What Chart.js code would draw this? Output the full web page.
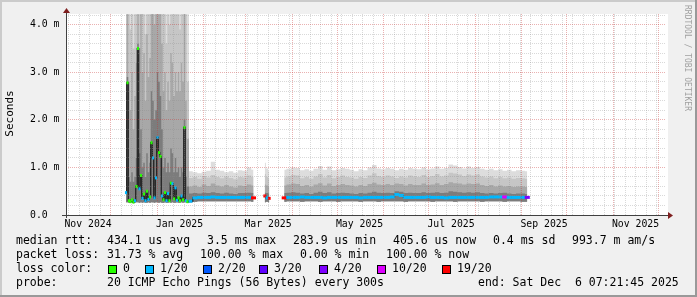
<!DOCTYPE html>
<html>
<head>
<meta charset="utf-8">
<script src="https://cdn.jsdelivr.net/npm/chart.js@4.4.1/dist/chart.umd.min.js"></script>
<style>
  html, body { margin: 0; padding: 0; background: #f0f0f0; }
  canvas { display: block; }
</style>
</head>
<body>
<canvas id="smoke" width="697" height="297"></canvas>
<script>
// x values are days since graph start (Fri Nov  1 07:21:45 2024), 400 days shown
const startMs = Date.UTC(2024, 10, 1, 7, 21, 45);
const spanDays = 400;
const yMax = 4.225; // ms

const sampleDay = [
  40, 41, 42, 43, 44, 45, 46, 47, 48, 49,
  50, 51, 52, 53, 54, 55, 56, 57, 58, 59,
  60, 61, 62, 63, 64, 65, 66, 67, 68, 69,
  70, 71, 72, 73, 74, 75, 76, 77, 78, 79,
  80, 81,
  83, 86, 89, 92, 95, 98, 101, 104, 107, 110, 113, 116, 119, 122, 125,
  128,
  132.5, 134, 135.5,
  140,
  145.5, 148.5, 151.5, 154.5, 157.5, 160.5, 163.5, 166.5, 169.5, 172.5,
  175.5, 178.5, 181.5, 184.5, 187.5, 190.5, 193.5, 196.5, 199.5, 202.5,
  205.5, 208.5, 211.5, 214.5, 217.5, 220.5, 223.5, 226.5, 229.5, 232.5,
  235.5, 238.5, 241.5, 244.5, 247.5, 250.5, 253.5, 256.5, 259.5, 262.5,
  265.5, 268.5, 271.5, 274.5, 277.5, 280.5, 283.5, 286.5, 289.5, 292.5,
  295.5, 298.5, 301.5, 304.5, 307.5
];

// median rtt in ms
const median = [
  0.47, 2.78, 0.30, 0.28, 0.32, 0.27, 0.30, 0.60, 3.50, 0.55,
  0.83, 0.35, 0.44, 0.30, 0.50, 0.33, 0.38, 1.52, 1.20, 0.36,
  0.78, 1.63, 1.31, 1.23, 0.40, 0.32, 0.47, 0.30, 0.45, 0.30,
  0.67, 0.66, 0.34, 0.57, 0.31, 0.36, 0.30, 0.40, 0.32, 1.84,
  0.30, 0.28,
  0.29, 0.36, 0.37, 0.37, 0.37, 0.38, 0.37, 0.37, 0.37, 0.37, 0.37, 0.37, 0.37, 0.37, 0.36,
  null,
  0.40, 0.36, 0.35,
  null,
  0.36, 0.37, 0.37, 0.37, 0.38, 0.37, 0.37, 0.37, 0.37, 0.36,
  0.37, 0.37, 0.37, 0.37, 0.37, 0.37, 0.37, 0.36, 0.37, 0.37,
  0.37, 0.37, 0.37, 0.37, 0.38, 0.43, 0.41, 0.37, 0.37, 0.37,
  0.37, 0.37, 0.38, 0.37, 0.37, 0.37, 0.36, 0.37, 0.37, 0.37,
  0.37, 0.37, 0.37, 0.37, 0.37, 0.37, 0.38, 0.38, 0.38, 0.38,
  0.37, 0.37, 0.37, 0.37, 0.37
];

// lost pings out of 20
const lossCount = [
  1, 0, 0, 0, 0, 0, 1, 0, 0, 1,
  0, 1, 0, 1, 0, 1, 0, 0, 1, 1,
  1, 1, 0, 0, 1, 0, 0, 1, 1, 0,
  0, 1, 0, 1, 1, 0, 0, 1, 0, 0,
  1, 0,
  1, 1, 1, 1, 1, 1, 1, 1, 1, 1, 1, 1, 1, 1, 19,
  null,
  19, 1, 19,
  null,
  19, 1, 1, 1, 1, 1, 1, 1, 1, 1,
  1, 1, 1, 1, 1, 1, 1, 1, 1, 1,
  1, 1, 1, 1, 1, 1, 1, 1, 1, 1,
  1, 1, 1, 1, 1, 1, 1, 1, 1, 1,
  1, 1, 1, 1, 1, 1, 1, 1, 1, 10,
  1, 1, 1, 1, 4
];

// smoke levels (ms), lowest ping up to highest ping
const smokeMin = [
  0.27, 0.27, 0.26, 0.26, 0.27, 0.25, 0.26, 0.27, 0.27, 0.26,
  0.27, 0.26, 0.27, 0.26, 0.26, 0.27, 0.26, 0.27, 0.27, 0.26,
  0.27, 0.27, 0.26, 0.27, 0.26, 0.25, 0.27, 0.26, 0.26, 0.27,
  0.26, 0.27, 0.26, 0.26, 0.27, 0.26, 0.26, 0.27, 0.26, 0.27,
  0.27, 0.26,
  0.27, 0.28, 0.29, 0.29, 0.29, 0.29, 0.29, 0.29, 0.29, 0.29, 0.29, 0.29, 0.29, 0.29, 0.28,
  null,
  0.27, 0.28, 0.27,
  null,
  0.28, 0.29, 0.29, 0.29, 0.28, 0.29, 0.29, 0.29, 0.28, 0.29,
  0.29, 0.29, 0.28, 0.29, 0.29, 0.29, 0.29, 0.28, 0.29, 0.29,
  0.29, 0.28, 0.29, 0.29, 0.29, 0.29, 0.29, 0.28, 0.29, 0.29,
  0.29, 0.29, 0.29, 0.28, 0.29, 0.29, 0.29, 0.29, 0.28, 0.29,
  0.29, 0.29, 0.29, 0.29, 0.28, 0.29, 0.29, 0.29, 0.29, 0.28,
  0.29, 0.29, 0.29, 0.28, 0.28
];

const smokeU1 = [
  0.9, 2.9, 0.8, 0.7, 0.9, 0.7, 0.8, 1.2, 3.6, 1.3,
  1.8, 1.0, 1.1, 0.8, 1.3, 0.9, 1.1, 2.6, 2.4, 2.0,
  2.2, 3.0, 2.8, 2.5, 1.8, 1.0, 1.2, 0.9, 1.1, 0.9,
  1.4, 1.3, 0.9, 1.2, 0.9, 1.0, 0.8, 1.0, 0.9, 2.0,
  0.8, 0.6,
  0.45, 0.46, 0.45, 0.47, 0.46, 0.48, 0.46, 0.45, 0.47, 0.45, 0.44, 0.46, 0.46, 0.47, 0.46,
  null,
  0.47, 0.46, 0.45,
  null,
  0.46, 0.47, 0.48, 0.47, 0.45, 0.46, 0.44, 0.47, 0.49, 0.46,
  0.48, 0.45, 0.46, 0.47, 0.46, 0.45, 0.44, 0.46, 0.45, 0.47,
  0.49, 0.47, 0.46, 0.47, 0.46, 0.50, 0.49, 0.46, 0.47, 0.46,
  0.46, 0.48, 0.46, 0.47, 0.48, 0.46, 0.47, 0.50, 0.49, 0.48,
  0.47, 0.48, 0.47, 0.48, 0.46, 0.45, 0.46, 0.45, 0.46, 0.47,
  0.45, 0.44, 0.45, 0.45, 0.44
];

const smokeU2 = [
  2.5, 4.22, 2.8, 2.2, 3.0, 1.8, 2.5, 3.2, 4.22, 3.5,
  4.22, 3.0, 3.4, 2.4, 3.8, 2.9, 3.3, 4.22, 4.22, 4.0,
  4.22, 4.22, 4.22, 4.22, 3.6, 2.6, 3.0, 2.2, 2.8, 2.4,
  3.4, 3.2, 2.5, 3.0, 2.6, 3.0, 2.6, 3.2, 2.8, 4.22,
  2.4, 1.6,
  0.60, 0.62, 0.59, 0.64, 0.61, 0.66, 0.62, 0.60, 0.63, 0.60, 0.58, 0.62, 0.61, 0.64, 0.62,
  null,
  0.64, 0.62, 0.60,
  null,
  0.62, 0.64, 0.66, 0.65, 0.61, 0.63, 0.60, 0.64, 0.67, 0.62,
  0.66, 0.61, 0.63, 0.65, 0.63, 0.62, 0.60, 0.63, 0.61, 0.65,
  0.68, 0.64, 0.63, 0.65, 0.63, 0.66, 0.65, 0.62, 0.65, 0.63,
  0.63, 0.66, 0.63, 0.64, 0.67, 0.63, 0.65, 0.69, 0.67, 0.66,
  0.64, 0.66, 0.65, 0.66, 0.63, 0.61, 0.63, 0.60, 0.62, 0.60,
  0.61, 0.59, 0.60, 0.60, 0.59
];

const smokeU3 = [
  4.22, 4.22, 4.22, 3.9, 4.22, 3.5, 4.22, 4.22, 4.22, 4.22,
  4.22, 4.22, 4.22, 3.8, 4.22, 4.22, 4.22, 4.22, 4.22, 4.22,
  4.22, 4.22, 4.22, 4.22, 4.22, 4.22, 4.22, 3.6, 4.22, 4.0,
  4.22, 4.22, 4.22, 4.22, 4.22, 4.22, 3.9, 4.22, 4.22, 4.22,
  4.22, 2.8,
  0.78, 0.80, 0.76, 0.82, 0.79, 0.84, 0.80, 0.77, 0.81, 0.78, 0.75, 0.80, 0.79, 0.83, 0.80,
  null,
  0.86, 0.80, 0.76,
  null,
  0.79, 0.81, 0.84, 0.83, 0.77, 0.80, 0.76, 0.81, 0.86, 0.79,
  0.84, 0.77, 0.80, 0.83, 0.80, 0.79, 0.76, 0.80, 0.78, 0.83,
  0.88, 0.82, 0.80, 0.83, 0.81, 0.78, 0.81, 0.79, 0.83, 0.81,
  0.80, 0.84, 0.80, 0.82, 0.86, 0.81, 0.83, 0.89, 0.87, 0.85,
  0.82, 0.85, 0.83, 0.85, 0.81, 0.79, 0.81, 0.77, 0.80, 0.77,
  0.79, 0.76, 0.78, 0.77, 0.76
];

const smokeMax = [
  4.22, 4.22, 4.22, 4.22, 4.22, 4.22, 4.22, 4.22, 4.22, 4.22,
  4.22, 4.22, 4.22, 4.22, 4.22, 4.22, 4.22, 4.22, 4.22, 4.22,
  4.22, 4.22, 4.22, 4.22, 4.22, 4.22, 4.22, 4.22, 4.22, 4.22,
  4.22, 4.22, 4.22, 4.22, 4.22, 4.22, 4.22, 4.22, 4.22, 4.22,
  4.22, 4.22,
  0.92, 0.90, 0.88, 0.91, 0.93, 1.12, 0.95, 0.93, 0.90, 0.92, 0.89, 0.94, 0.93, 1.00, 0.95,
  null,
  1.10, 0.98, 0.92,
  null,
  0.95, 0.97, 1.00, 0.99, 0.94, 0.96, 0.93, 0.97, 1.03, 0.95,
  1.02, 0.94, 0.96, 0.99, 0.97, 0.95, 0.92, 0.96, 0.94, 1.00,
  1.05, 0.98, 0.96, 0.99, 0.97, 0.94, 0.97, 0.95, 0.99, 0.97,
  0.96, 1.00, 0.96, 0.98, 1.02, 0.97, 0.99, 1.06, 1.04, 1.01,
  0.98, 1.02, 0.99, 1.01, 0.97, 0.95, 0.97, 0.94, 0.96, 0.93,
  0.95, 0.92, 0.94, 0.93, 0.92
];

const lossLevels = [0, 1, 2, 3, 4, 10, 19];
const lossLabels = ['0', '1/20', '2/20', '3/20', '4/20', '10/20', '19/20'];
const lossColors = ['#26ff00', '#00b8ff', '#0059ff', '#5e00ff', '#7e00ff', '#dd00ff', '#ff0000'];

const yTicks = [0, 1, 2, 3, 4];
const yTickLabels = ['0.0', '1.0 m', '2.0 m', '3.0 m', '4.0 m'];
const xLabelMonths = [[2024, 10], [2025, 0], [2025, 2], [2025, 4], [2025, 6], [2025, 8], [2025, 10]];
const xLabels = ['Nov 2024', 'Jan 2025', 'Mar 2025', 'May 2025', 'Jul 2025', 'Sep 2025', 'Nov 2025'];

const legendRtt = ['median rtt:', '434.1 us avg', '3.5 ms max', '283.9 us min', '405.6 us now', '0.4 ms sd', '993.7 m am/s'];
const legendRttX = [16, 107, 207, 293, 393, 493, 572];
const legendLoss = ['packet loss:', '31.73 % avg', '100.00 % max', '0.00 % min', '100.00 % now'];
const legendLossX = [16, 107, 200, 300, 386];
const lossBoxX = [108, 145, 203, 259, 319, 377, 442];
const probeText = ['probe:', '20 ICMP Echo Pings (56 Bytes) every 300s', 'end: Sat Dec  6 07:21:45 2025'];
const probeX = [16, 107, 478];

function lossColor(n) {
  let c = lossColors[0];
  for (let i = 0; i < lossLevels.length; i++) if (n >= lossLevels[i]) c = lossColors[i];
  return c;
}

function pts(values) {
  return sampleDay.map((d, i) => ({ x: d, y: values[i] }));
}

function smoke(values, color, order) {
  return {
    data: pts(values), fill: 0, backgroundColor: color, borderWidth: 0,
    pointRadius: 0, stepped: 'middle', order: order
  };
}

// half the width of one sample step, in pixels (plot is 600 px for 400 days)
function stepRadius(c) {
  const i = c.dataIndex;
  if (i == null) return 1;
  const gaps = [];
  if (i > 0 && median[i - 1] != null) gaps.push(sampleDay[i] - sampleDay[i - 1]);
  if (i < sampleDay.length - 1 && median[i + 1] != null) gaps.push(sampleDay[i + 1] - sampleDay[i]);
  const g = gaps.length ? Math.min(...gaps) : 2;
  return g * 600 / spanDays / 2 + 0.3;
}

const MONO = '"DejaVu Sans Mono", monospace';
const dayOf = (y, m, d) => (Date.UTC(y, m, d) - startMs) / 86400000;

const rrdFrame = {
  id: 'rrdFrame',
  beforeDraw(chart) {
    const { ctx, chartArea: a, width, height } = chart;
    ctx.save();
    ctx.fillStyle = '#f0f0f0';
    ctx.fillRect(0, 0, width, height);
    ctx.fillStyle = '#cbcbcb';
    ctx.fillRect(0, 0, width, 2);
    ctx.fillRect(0, 0, 2, height);
    ctx.fillStyle = '#999999';
    ctx.fillRect(0, height - 2, width, 2);
    ctx.fillRect(width - 2, 0, 2, height);
    ctx.fillStyle = '#ffffff';
    ctx.fillRect(a.left, a.top, a.right - a.left + 2, a.bottom - a.top);
    ctx.restore();
  },
  afterDatasetsDraw(chart) {
    const { ctx, chartArea: a } = chart;
    const xs = chart.scales.x, ys = chart.scales.y;
    const months = [];
    for (let k = 0; k <= 12; k++) months.push(dayOf(2024, 11 + k, 1));

    ctx.save();
    ctx.lineWidth = 1;
    ctx.setLineDash([1, 1]);

    // minor grid: weeks and 0.2 ms
    ctx.strokeStyle = 'rgba(140,140,140,0.33)';
    ctx.beginPath();
    for (let d = dayOf(2024, 10, 3); d < spanDays; d += 7) {
      if (months.some(m => Math.abs(m - d) < 0.5)) continue;
      const x = Math.floor(xs.getPixelForValue(d)) + 0.5;
      ctx.moveTo(x, a.top); ctx.lineTo(x, a.bottom);
    }
    for (let i = 1; i * 0.2 < yMax; i++) {
      if (i % 5 === 0) continue;
      const y = Math.floor(ys.getPixelForValue(i * 0.2)) + 0.5;
      ctx.moveTo(a.left, y); ctx.lineTo(a.right, y);
    }
    ctx.stroke();

    // major grid: months and 1 ms
    ctx.strokeStyle = 'rgba(200,50,50,0.38)';
    ctx.beginPath();
    months.forEach(d => {
      const x = Math.floor(xs.getPixelForValue(d)) + 0.5;
      ctx.moveTo(x, a.top); ctx.lineTo(x, a.bottom);
    });
    yTicks.slice(1).forEach(v => {
      const y = Math.floor(ys.getPixelForValue(v)) + 0.5;
      ctx.moveTo(a.left, y); ctx.lineTo(a.right, y);
    });
    ctx.stroke();

    // axes with arrows
    ctx.setLineDash([]);
    ctx.strokeStyle = '#404040';
    ctx.beginPath();
    ctx.moveTo(a.left - 4, a.bottom + 0.5); ctx.lineTo(a.right + 3, a.bottom + 0.5);
    ctx.moveTo(a.left + 0.5, a.bottom + 3); ctx.lineTo(a.left + 0.5, a.top - 2);
    ctx.stroke();
    ctx.fillStyle = '#7f1f1f';
    ctx.beginPath();
    ctx.moveTo(a.right + 2, a.bottom - 3); ctx.lineTo(a.right + 7, a.bottom + 0.5); ctx.lineTo(a.right + 2, a.bottom + 4);
    ctx.closePath(); ctx.fill();
    ctx.beginPath();
    ctx.moveTo(a.left - 3, a.top - 1); ctx.lineTo(a.left + 0.5, a.top - 6); ctx.lineTo(a.left + 4, a.top - 1);
    ctx.closePath(); ctx.fill();
    ctx.restore();
  },
  afterDraw(chart) {
    const { ctx, chartArea: a } = chart;
    const xs = chart.scales.x, ys = chart.scales.y;
    ctx.save();
    ctx.fillStyle = '#000';
    ctx.textBaseline = 'middle';

    ctx.font = '9.8px ' + MONO;
    ctx.textAlign = 'left';
    yTicks.forEach((v, i) => ctx.fillText(yTickLabels[i], 30, ys.getPixelForValue(v)));
    ctx.textAlign = 'center';
    xLabelMonths.forEach(([y, m], i) => {
      ctx.fillText(xLabels[i], xs.getPixelForValue(dayOf(y, m, 1) + 15), a.bottom + 9.5);
    });

    // axis title
    ctx.save();
    ctx.font = '11px ' + MONO;
    ctx.translate(10.5, 113.5);
    ctx.rotate(-Math.PI / 2);
    ctx.fillText('Seconds', 0, 0);
    ctx.restore();

    // watermark
    ctx.save();
    ctx.font = '8px ' + MONO;
    ctx.fillStyle = '#a0a0a0';
    ctx.textAlign = 'left';
    ctx.translate(687.5, 5);
    ctx.rotate(Math.PI / 2);
    ctx.fillText('RRDTOOL / TOBI OETIKER', 0, 0);
    ctx.restore();

    // legend
    ctx.font = '11.5px ' + MONO;
    ctx.textAlign = 'left';
    legendRtt.forEach((t, i) => ctx.fillText(t, legendRttX[i], 241.5));
    legendLoss.forEach((t, i) => ctx.fillText(t, legendLossX[i], 255.5));
    ctx.fillText('loss color:', 16, 269.5);
    lossLabels.forEach((t, i) => {
      const bx = lossBoxX[i];
      ctx.fillStyle = lossColors[i];
      ctx.fillRect(bx, 265, 9, 9);
      ctx.strokeStyle = '#000';
      ctx.lineWidth = 1;
      ctx.strokeRect(bx + 0.5, 265.5, 8, 8);
      ctx.fillStyle = '#000';
      ctx.fillText(t, bx + 15, 269.5);
    });
    probeText.forEach((t, i) => ctx.fillText(t, probeX[i], 283.5));
    ctx.restore();
  }
};

new Chart(document.getElementById('smoke').getContext('2d'), {
  type: 'line',
  data: {
    datasets: [
      { data: pts(smokeMin), borderWidth: 0, pointRadius: 0, fill: false, stepped: 'middle', order: 6 },
      smoke(smokeMax, '#dddddd', 5),
      smoke(smokeU3, '#c6c6c6', 4),
      smoke(smokeU2, '#a8a8a8', 3),
      smoke(smokeU1, '#7c7c7c', 2),
      {
        data: pts(median), borderColor: '#1a1a1a', borderWidth: 1.2,
        pointRadius: 0, fill: false, stepped: 'middle', order: 1
      },
      {
        data: pts(median), showLine: false, fill: false, order: 0,
        pointStyle: 'line', pointBorderWidth: 3,
        pointBorderColor: c => lossColor(lossCount[c.dataIndex]),
        pointRadius: stepRadius
      }
    ]
  },
  options: {
    responsive: false,
    animation: false,
    devicePixelRatio: 1,
    events: [],
    layout: { padding: { left: 66, right: 31, top: 14, bottom: 82 } },
    scales: {
      x: { type: 'linear', min: 0, max: spanDays, display: false },
      y: { type: 'linear', min: 0, max: yMax, display: false }
    },
    plugins: { legend: { display: false }, tooltip: { enabled: false } }
  },
  plugins: [rrdFrame]
});
</script>
</body>
</html>
